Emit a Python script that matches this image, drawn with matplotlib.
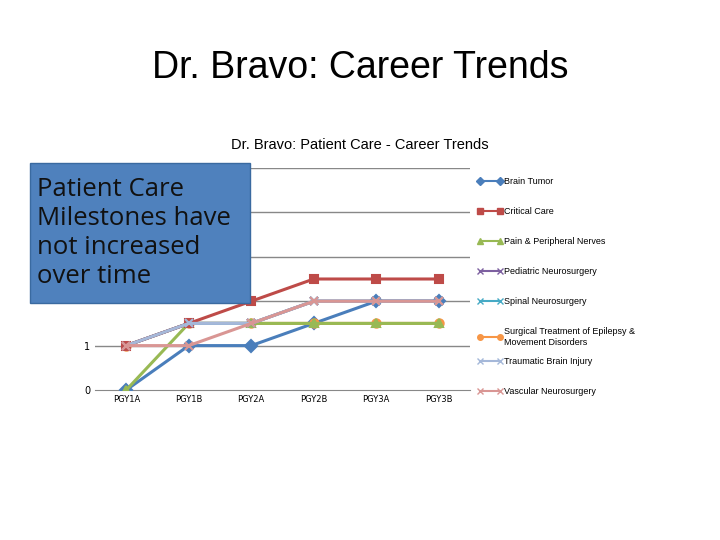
import matplotlib
matplotlib.use("Agg")
import matplotlib.pyplot as plt
from matplotlib.lines import Line2D

cats = ["PGY1A", "PGY1B", "PGY2A", "PGY2B", "PGY3A", "PGY3B"]
brain_tumor = [0, 1, 1, 1.5, 2, 2]
critical_care = [1, 1.5, 2, 2.5, 2.5, 2.5]
pain_nerves = [0, 1.5, 1.5, 1.5, 1.5, 1.5]
pediatric = [1, 1.5, 1.5, 2, 2, 2]
spinal = [1, 1.5, 1.5, 2, 2, 2]
epilepsy = [1, 1.5, 1.5, 1.5, 1.5, 1.5]
traumatic = [1, 1.5, 1.5, 2, 2, 2]
vascular = [1, 1, 1.5, 2, 2, 2]

series = [
    ("Brain Tumor", brain_tumor, "#4A7EBB", "D"),
    ("Critical Care", critical_care, "#BE4B48", "s"),
    ("Pain & Peripheral Nerves", pain_nerves, "#98B954", "^"),
    ("Pediatric Neurosurgery", pediatric, "#7D60A0", "x"),
    ("Spinal Neurosurgery", spinal, "#46AAC5", "x"),
    ("Surgical Treatment of Epilepsy &\nMovement Disorders", epilepsy, "#F79646", "o"),
    ("Traumatic Brain Injury", traumatic, "#A5B8D9", "x"),
    ("Vascular Neurosurgery", vascular, "#D99694", "x"),
]

fig = plt.figure(figsize=(7.2, 5.4), dpi=100)
fig.text(0.5, 0.875, "Dr. Bravo: Career Trends", ha="center", va="center", fontsize=27, family="Liberation Sans")
fig.text(0.5, 0.732, "Dr. Bravo: Patient Care - Career Trends", ha="center", va="center", fontsize=10.5, family="Liberation Sans")

ax = fig.add_axes([95/720, 1-390/540, (470-95)/720, (390-168)/540])
x = range(len(cats))
order = [0, 5, 2, 3, 4, 1, 6, 7]
for i in order:
    name, vals, col, mk = series[i]
    ax.plot(x, vals, color=col, marker=mk, lw=2.2, ms=6, mew=1.5, zorder=3)
ax.set_xlim(-0.5, 5.5)
ax.set_ylim(0, 5)
ax.set_yticks([0, 1])
ax.set_xticks(list(x))
ax.set_xticklabels(cats, fontsize=6)
ax.tick_params(axis="y", labelsize=7, length=0)
ax.tick_params(axis="x", length=0)
for yv in [1, 2, 3, 4, 5]:
    ax.axhline(yv, color="#888888", lw=1, zorder=1)
for s in ["top", "right", "left"]:
    ax.spines[s].set_visible(False)
ax.spines["bottom"].set_color("#888888")

ys = [181, 211, 241, 271, 301, 337, 361, 391]
for (name, vals, col, mk), yp in zip(series, ys):
    fy = 1 - yp/540
    fig.add_artist(Line2D([480/720, 500/720], [fy, fy], color=col, lw=1.5, marker=mk, ms=4, transform=fig.transFigure))
    fig.text(504/720, fy, name, fontsize=6.5, va="center", family="Liberation Sans")

fig.patches.append(plt.Rectangle((30/720, 1-303/540), 220/720, 140/540, transform=fig.transFigure,
                                 facecolor="#4F81BD", edgecolor="#3A6AA0", zorder=10))
fig.text(37/720, 1-233/540, "Patient Care\nMilestones have\nnot increased\nover time", fontsize=18.5,
         va="center", ha="left", linespacing=1.2, family="Open Sans", zorder=11, color="#111111")
fig.savefig("out.png", dpi=100)
